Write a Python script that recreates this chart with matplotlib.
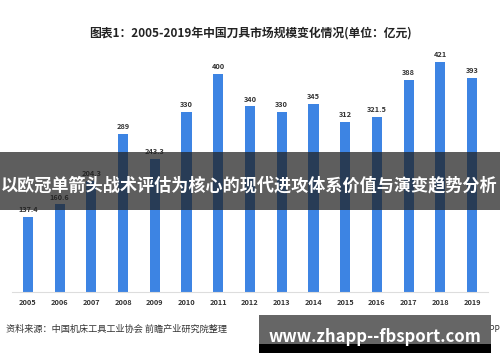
import matplotlib.pyplot as plt
from matplotlib.patches import Rectangle

plt.rcParams['font.family'] = ['Noto Sans CJK SC', 'DejaVu Sans']

years = ['2005', '2006', '2007', '2008', '2009', '2010', '2011', '2012',
         '2013', '2014', '2015', '2016', '2017', '2018', '2019']
values = [137.4, 160.6, 204.3, 289, 243.3, 330, 400, 340,
          330, 345, 312, 321.5, 388, 421, 393]
labels = ['137.4', '160.6', '204.3', '289', '243.3', '330', '400', '340',
          '330', '345', '312', '321.5', '388', '421', '393']

W, H = 500, 362
fig = plt.figure(figsize=(5, 3.62), dpi=100)

# axes: baseline at y=292 px, bars from x=27 to x=472
ax = fig.add_axes([12 / W, 1 - 292 / H, 476 / W, 251 / H])
x = list(range(len(years)))
ax.bar(x, values, width=0.32, color='#3d84e3', zorder=2)
for xi, v, lab in zip(x, values, labels):
    ax.text(xi, v + 7, lab, ha='center', va='bottom', fontsize=5.3,
            fontweight='bold', color='#333333')
ax.set_xlim(-0.5, len(years) - 0.5)
ax.set_ylim(0, 460)
ax.set_xticks(x)
ax.set_xticklabels(years, fontsize=5.3, fontweight='bold', color='#333333')
ax.tick_params(axis='x', length=0, pad=5)
ax.set_yticks([])
for s in ['top', 'right', 'left']:
    ax.spines[s].set_visible(False)
ax.spines['bottom'].set_color('#dddddd')
ax.spines['bottom'].set_linewidth(0.8)

fig.text(250 / W, 1 - 33 / H, '图表1：2005-2019年中国刀具市场规模变化情况(单位：亿元)',
         ha='center', va='center', fontsize=8.5, fontweight='bold', color='#222222')

# dark banner overlay
fig.patches.append(Rectangle((0, 1 - 210 / H), 1, 58 / H, transform=fig.transFigure,
                             facecolor='#202020', alpha=0.72, zorder=5))
fig.text(249 / W, 1 - 185 / H, '以欧冠单箭头战术评估为核心的现代进攻体系价值与演变趋势分析',
         ha='center', va='center', fontsize=12.3, fontweight='bold', color='white', zorder=6)

fig.text(6 / W, 1 - 329 / H, '资料来源：中国机床工具工业协会 前瞻产业研究院整理',
         ha='left', va='center', fontsize=6.6, color='#333333')
fig.text(500 / W, 1 - 329 / H, '@前瞻经济学人APP',
         ha='right', va='center', fontsize=6, color='#333333')

# watermark box
fig.patches.append(Rectangle((259 / W, 1 - 344 / H), 232 / W, 29 / H, transform=fig.transFigure,
                             facecolor='#666666', zorder=5))
fig.patches.append(Rectangle((259 / W, 1 - 353 / H), 232 / W, 9 / H, transform=fig.transFigure,
                             facecolor='#000000', zorder=5))
fig.text(375 / W, 1 - 337 / H, 'www.zhapp--fbsport.com',
         ha='center', va='center', fontsize=12, fontweight='bold', color='white', zorder=6)

fig.savefig('out.png', dpi=100)
